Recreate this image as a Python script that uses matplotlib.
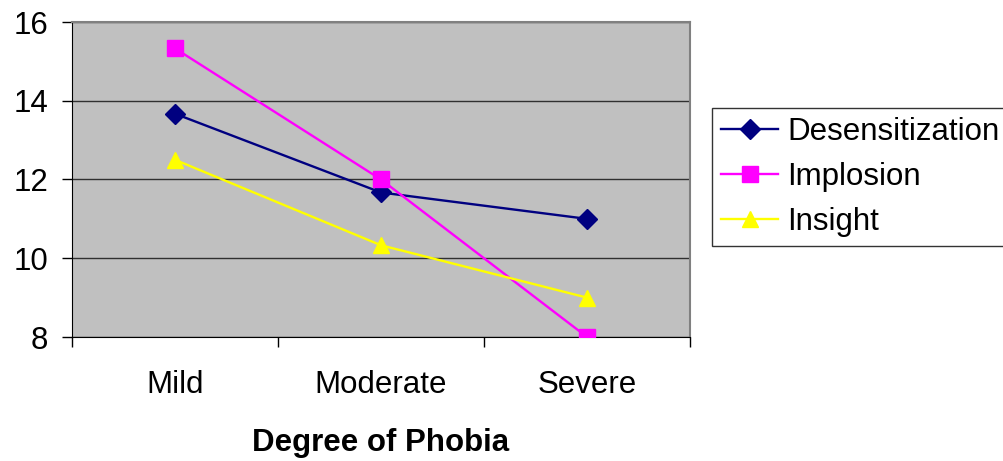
import matplotlib
matplotlib.use("Agg")
import matplotlib.pyplot as plt
from matplotlib.ticker import FixedLocator

categories = ["Mild", "Moderate", "Severe"]
desens = [13.67, 11.67, 11.0]
implosion = [15.33, 12.0, 8.0]
insight = [12.5, 10.33, 9.0]
yticks = [8, 10, 12, 14, 16]

plt.rcParams['font.family'] = ['Liberation Sans', 'DejaVu Sans']
FS = 22.5

fig = plt.figure(figsize=(10.04, 4.61), dpi=100)
ax = fig.add_axes([72/1004, 1-337/461, (690-72)/1004, (337-22)/461])
ax.set_facecolor('#C0C0C0')

x = list(range(len(categories)))
ax.plot(x, desens, color='#000080', lw=1.7, marker='D', ms=10, label='Desensitization', zorder=3)
ax.plot(x, implosion, color='#FF00FF', lw=1.7, marker='s', ms=11, label='Implosion', zorder=3)
ax.plot(x, insight, color='#FFFF00', lw=1.7, marker='^', ms=12, label='Insight', zorder=3)

ax.set_xlim(-0.5, 2.5)
ax.set_ylim(8, 16)
ax.set_yticks(yticks)
ax.set_yticklabels([str(v) for v in yticks], fontsize=FS)
ax.yaxis.grid(True, color='#303030', lw=1)
ax.set_axisbelow(True)

ax.set_xticks(x)
ax.set_xticklabels(categories, fontsize=FS)
ax.xaxis.set_minor_locator(FixedLocator([-0.5, 0.5, 1.5, 2.5]))
ax.tick_params(axis='x', which='major', length=0, pad=24)
ax.tick_params(axis='x', which='minor', length=7, width=1, color='black', direction='out')
ax.tick_params(axis='y', length=7, width=1, direction='out', pad=10)

for s in ['top', 'right']:
    ax.spines[s].set_color('#808080')
    ax.spines[s].set_linewidth(1.5)
ax.spines['left'].set_color('black')
ax.spines['bottom'].set_color('black')

ax.set_xlabel('Degree of Phobia', fontsize=FS, fontweight='bold', labelpad=20)

leg = ax.legend(loc='center left', bbox_to_anchor=(712/1004, 1-177/461), bbox_transform=fig.transFigure,
                fontsize=FS, frameon=True, fancybox=False, edgecolor='black', handlelength=1.8,
                handletextpad=0.3, borderpad=0.3, labelspacing=0.48, borderaxespad=0)
leg.get_frame().set_linewidth(1)

fig.savefig('out.png', dpi=100)
